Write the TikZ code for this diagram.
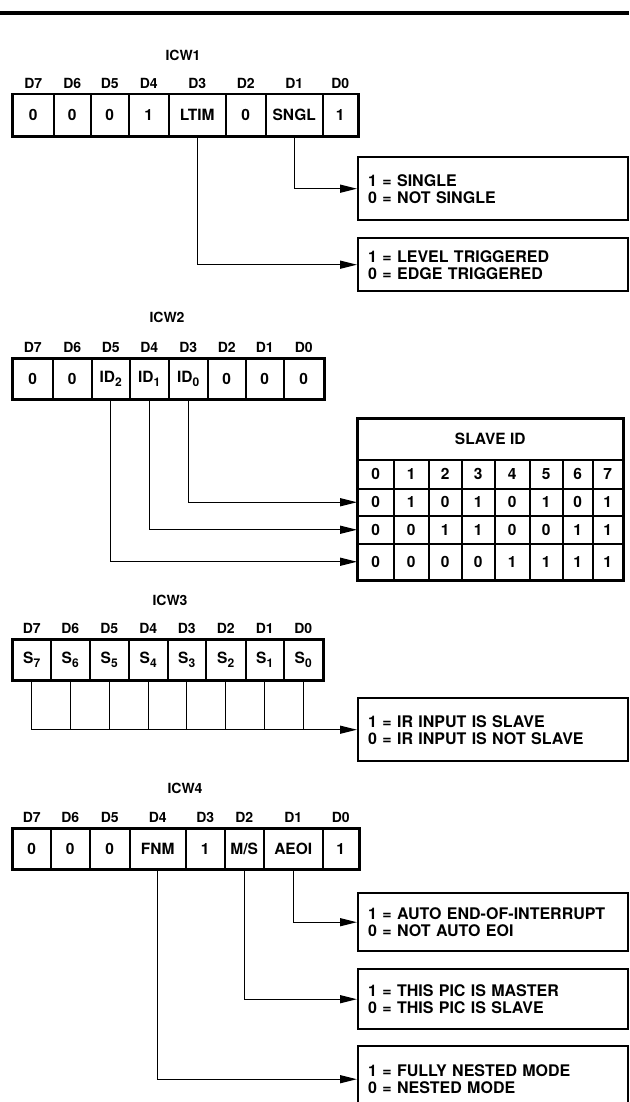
\documentclass[tikz,border=0pt]{standalone}
\usepackage{fontspec}
\setmainfont{TeX Gyre Heros}
\usetikzlibrary{arrows.meta}
\usetikzlibrary{positioning}
\newcommand{\lowidx}[1]{\raisebox{-0.45ex}{\fontsize{12}{12}\selectfont #1}}

\begin{document}
\begin{tikzpicture}[x=1pt,y=-1pt,
  font=\bfseries\fontsize{15.5}{18}\selectfont,
  cell/.style={draw,line width=1.5pt,anchor=north west,minimum height=40pt,inner sep=0pt},
  frame/.style={line width=2.4pt},
  bitlbl/.style={font=\bfseries\fontsize{14}{16}\selectfont},
  title/.style={font=\bfseries\fontsize{14}{16}\selectfont},
  infobox/.style={draw,line width=2.4pt,anchor=north west,minimum width=270pt,text width=250pt,
    inner xsep=10pt,align=left,font=\bfseries\fontsize{16}{17}\selectfont},
  wire/.style={line width=1.4pt},
  feed/.style={wire,-{Triangle[length=17pt,width=8pt]}}]
\useasboundingbox (0,0) rectangle (629,1102);
\clip (0,0) rectangle (629,1102);
\draw[line width=3.5pt] (0,13) -- (629,13);

% ICW1
\node[title] (t1) at (183,55) {ICW1};
\node[cell,minimum width=41pt,minimum height=41pt] (a7) at (12,94) {0};
\node[cell,minimum width=37pt,minimum height=41pt] (a6) at (53,94) {0};
\node[cell,minimum width=38pt,minimum height=41pt] (a5) at (90,94) {0};
\node[cell,minimum width=40pt,minimum height=41pt] (a4) at (128,94) {1};
\node[cell,minimum width=57pt,minimum height=41pt] (a3) at (168,94) {LTIM};
\node[cell,minimum width=40pt,minimum height=41pt] (a2) at (225,94) {0};
\node[cell,minimum width=57pt,minimum height=41pt] (a1) at (265,94) {SNGL};
\node[cell,minimum width=35pt,minimum height=41pt] (a0) at (322,94) {1};
\draw[frame] (a7.north west) rectangle (a0.south east);
\node[bitlbl,above=2pt of a7] (la7) {D7};
\node[bitlbl,above=2pt of a6] (la6) {D6};
\node[bitlbl,above=2pt of a5] (la5) {D5};
\node[bitlbl,above=2pt of a4] (la4) {D4};
\node[bitlbl,above=2pt of a3] (la3) {D3};
\node[bitlbl,above=2pt of a2] (la2) {D2};
\node[bitlbl,above=2pt of a1] (la1) {D1};
\node[bitlbl,above=2pt of a0] (la0) {D0};

\node[infobox,minimum height=63pt] (single) at (357,156) {1 = SINGLE\\0 = NOT SINGLE};
\node[infobox,minimum height=53pt] (level) at (357,237) {1 = LEVEL TRIGGERED\\0 = EDGE TRIGGERED};
\draw[feed] (a1.south) |- (single.west);
\draw[feed] (a3.south) |- (level.west);

% ICW2
\node[title] (t2) at (167,317) {ICW2};
\node[cell,minimum width=40pt] (b7) at (12,358) {0};
\node[cell,minimum width=39pt] (b6) at (52,358) {0};
\node[cell,minimum width=38pt] (b5) at (91,358) {ID\lowidx{2}};
\node[cell,minimum width=39pt] (b4) at (129,358) {ID\lowidx{1}};
\node[cell,minimum width=39pt] (b3) at (168,358) {ID\lowidx{0}};
\node[cell,minimum width=38pt] (b2) at (207,358) {0};
\node[cell,minimum width=38pt] (b1) at (245,358) {0};
\node[cell,minimum width=40pt] (b0) at (283,358) {0};
\draw[frame] (b7.north west) rectangle (b0.south east);
\node[bitlbl,above=2pt of b7] (lb7) {D7};
\node[bitlbl,above=2pt of b6] (lb6) {D6};
\node[bitlbl,above=2pt of b5] (lb5) {D5};
\node[bitlbl,above=2pt of b4] (lb4) {D4};
\node[bitlbl,above=2pt of b3] (lb3) {D3};
\node[bitlbl,above=2pt of b2] (lb2) {D2};
\node[bitlbl,above=2pt of b1] (lb1) {D1};
\node[bitlbl,above=2pt of b0] (lb0) {D0};

% slave id table
\node[cell,minimum width=265pt,minimum height=41pt] (slvid) at (357,418) {SLAVE ID};
\foreach \x/\w/\p/\q/\r [count=\c from 0] in
  {357/36pt/0/0/0,393/35pt/1/0/0,428/33pt/0/1/0,461/33pt/1/1/0,
   494/35pt/0/0/1,529/33pt/1/0/1,562/30pt/0/1/1,592/30pt/1/1/1}
{
  \node[cell,minimum width=\w,minimum height=29pt] (id\c) at (\x,459) {\c};
  \node[cell,minimum width=\w,minimum height=27pt] (p\c) at (\x,488) {\p};
  \node[cell,minimum width=\w,minimum height=28pt] (q\c) at (\x,515) {\q};
  \node[cell,minimum width=\w,minimum height=36pt] (r\c) at (\x,543) {\r};
}
\draw[frame] (slvid.north west) rectangle (r7.south east);
\draw[feed] (b3.south) |- (p0.west);
\draw[feed] (b4.south) |- (q0.west);
\draw[feed] (b5.south) |- (r0.west);

% ICW3
\node[title] (t3) at (170,600) {ICW3};
\node[cell,minimum width=38pt] (c7) at (12,639) {S\lowidx{7}};
\node[cell,minimum width=39pt] (c6) at (50,639) {S\lowidx{6}};
\node[cell,minimum width=39pt] (c5) at (89,639) {S\lowidx{5}};
\node[cell,minimum width=39pt] (c4) at (128,639) {S\lowidx{4}};
\node[cell,minimum width=38pt] (c3) at (167,639) {S\lowidx{3}};
\node[cell,minimum width=40pt] (c2) at (205,639) {S\lowidx{2}};
\node[cell,minimum width=38pt] (c1) at (245,639) {S\lowidx{1}};
\node[cell,minimum width=39pt] (c0) at (283,639) {S\lowidx{0}};
\draw[frame] (c7.north west) rectangle (c0.south east);
\node[bitlbl,above=2pt of c7] (lc7) {D7};
\node[bitlbl,above=2pt of c6] (lc6) {D6};
\node[bitlbl,above=2pt of c5] (lc5) {D5};
\node[bitlbl,above=2pt of c4] (lc4) {D4};
\node[bitlbl,above=2pt of c3] (lc3) {D3};
\node[bitlbl,above=2pt of c2] (lc2) {D2};
\node[bitlbl,above=2pt of c1] (lc1) {D1};
\node[bitlbl,above=2pt of c0] (lc0) {D0};

\node[infobox,minimum height=63pt] (irin) at (357,697) {1 = IR INPUT IS SLAVE\\0 = IR INPUT IS NOT SLAVE};
\draw[feed] (c7.south) |- (irin.west);
\draw[wire] (c6.south) -- (c6.south |- irin.west);
\draw[wire] (c5.south) -- (c5.south |- irin.west);
\draw[wire] (c4.south) -- (c4.south |- irin.west);
\draw[wire] (c3.south) -- (c3.south |- irin.west);
\draw[wire] (c2.south) -- (c2.south |- irin.west);
\draw[wire] (c1.south) -- (c1.south |- irin.west);
\draw[wire] (c0.south) -- (c0.south |- irin.west);

% ICW4
\node[title] (t4) at (185,788) {ICW4};
\node[cell,minimum width=38pt] (e7) at (12,828) {0};
\node[cell,minimum width=39pt] (e6) at (50,828) {0};
\node[cell,minimum width=40pt] (e5) at (89,828) {0};
\node[cell,minimum width=56pt] (e4) at (129,828) {FNM};
\node[cell,minimum width=39pt] (e3) at (185,828) {1};
\node[cell,minimum width=39pt] (e2) at (224,828) {M/S};
\node[cell,minimum width=59pt] (e1) at (263,828) {AEOI};
\node[cell,minimum width=36pt] (e0) at (322,828) {1};
\draw[frame] (e7.north west) rectangle (e0.south east);
\node[bitlbl,above=2pt of e7] (le7) {D7};
\node[bitlbl,above=2pt of e6] (le6) {D6};
\node[bitlbl,above=2pt of e5] (le5) {D5};
\node[bitlbl,above=2pt of e4] (le4) {D4};
\node[bitlbl,above=2pt of e3] (le3) {D3};
\node[bitlbl,above=2pt of e2] (le2) {D2};
\node[bitlbl,above=2pt of e1] (le1) {D1};
\node[bitlbl,above=2pt of e0] (le0) {D0};

\node[infobox,minimum height=58pt] (autoeoi) at (357,892) {1 = AUTO END-OF-INTERRUPT\\0 = NOT AUTO EOI};
\node[infobox,minimum height=60pt] (master) at (357,968) {1 = THIS PIC IS MASTER\\0 = THIS PIC IS SLAVE};
\node[infobox,minimum height=66pt] (nested) at (357,1045) {1 = FULLY NESTED MODE\\0 = NESTED MODE};
\draw[feed] (e1.south) |- (autoeoi.west);
\draw[feed] (e2.south) |- (master.west);
\draw[feed] (e4.south) |- (nested.west);
\end{tikzpicture}
\end{document}
